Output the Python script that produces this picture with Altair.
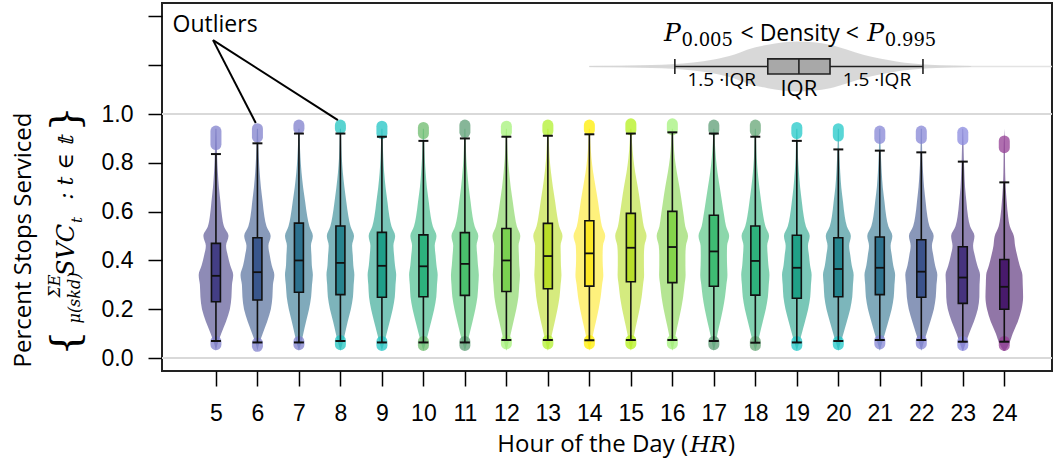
import altair as alt
import pandas as pd

# ---------------- data ----------------
hours = list(range(5, 25))
q1  = [0.231, 0.238, 0.270, 0.260, 0.249, 0.251, 0.257, 0.273, 0.284, 0.295,
       0.313, 0.309, 0.294, 0.258, 0.245, 0.251, 0.260, 0.249, 0.224, 0.200]
med = [0.337, 0.352, 0.400, 0.390, 0.378, 0.376, 0.386, 0.400, 0.418, 0.429,
       0.452, 0.455, 0.437, 0.398, 0.370, 0.365, 0.370, 0.354, 0.330, 0.292]
q3  = [0.470, 0.493, 0.553, 0.541, 0.515, 0.505, 0.514, 0.531, 0.552, 0.563,
       0.593, 0.601, 0.585, 0.541, 0.503, 0.493, 0.496, 0.485, 0.456, 0.404]
wlo = [0.070, 0.064, 0.064, 0.070, 0.064, 0.064, 0.064, 0.074, 0.074, 0.073,
       0.074, 0.074, 0.070, 0.063, 0.064, 0.070, 0.074, 0.074, 0.067, 0.067]
whi = [0.836, 0.880, 0.920, 0.920, 0.907, 0.890, 0.900, 0.907, 0.911, 0.917,
       0.920, 0.925, 0.920, 0.907, 0.890, 0.855, 0.850, 0.843, 0.805, 0.720]

top_lo = [0.875, 0.905, 0.940, 0.940, 0.920, 0.920, 0.925, 0.925, 0.930, 0.935,
          0.935, 0.935, 0.935, 0.930, 0.920, 0.910, 0.900, 0.900, 0.895, 0.862]
top_hi = [0.930, 0.940, 0.955, 0.955, 0.950, 0.945, 0.955, 0.950, 0.955, 0.955,
          0.960, 0.960, 0.955, 0.955, 0.945, 0.940, 0.930, 0.930, 0.925, 0.890]
bot_lo = [0.055, 0.048, 0.055, 0.055, 0.052, 0.052, 0.052, 0.058, 0.058, 0.058,
          0.058, 0.058, 0.055, 0.052, 0.052, 0.055, 0.058, 0.058, 0.052, 0.052]
bot_hi = [0.068, 0.062, 0.068, 0.072, 0.068, 0.068, 0.068, 0.072, 0.072, 0.072,
          0.072, 0.072, 0.068, 0.068, 0.068, 0.068, 0.072, 0.072, 0.068, 0.068]

box_colors = ["#433e85", "#39568c", "#2c718e", "#26828e", "#1f9e89", "#2db27d",
              "#4ac16d", "#7ad151", "#bade28", "#fde725", "#b8de29", "#84d44b",
              "#3fbc73", "#2eb37c", "#1fa187", "#25858e", "#2c728e", "#3b528b",
              "#46337e", "#481a6c"]
outlier_colors = ["#8080cc", "#8080cc", "#7f7fcc", "#22c4c0", "#22c4c4", "#6cbb6c",
                  "#5e9e76", "#a6f27a", "#b2f030", "#ffee00", "#b4f01c", "#a4f27c",
                  "#5e9e76", "#66a676", "#22c8c8", "#22c8c8", "#8585d5", "#8585d5",
                  "#8a8adf", "#943d94"]

# violin profile: relative density at value levels, one list per hour
levels = [0.03, 0.06, 0.10, 0.15, 0.20, 0.25, 0.30, 0.34, 0.38, 0.42,
          0.46, 0.50, 0.54, 0.58, 0.64, 0.70, 0.76, 0.82, 0.88, 0.94]
density = {
    5:  [0.00,0.10,0.30,0.58,0.80,0.89,0.92,0.99,0.82,0.68,0.58,0.72,0.46,0.35,0.26,0.17,0.11,0.07,0.05,0.03],
    6:  [0.00,0.10,0.30,0.56,0.77,0.86,0.89,0.97,0.82,0.71,0.63,0.76,0.52,0.40,0.30,0.20,0.13,0.08,0.05,0.03],
    7:  [0.00,0.12,0.25,0.41,0.58,0.70,0.75,0.80,0.74,0.72,0.69,0.80,0.60,0.48,0.36,0.24,0.15,0.09,0.05,0.03],
    8:  [0.00,0.12,0.26,0.42,0.60,0.72,0.76,0.80,0.74,0.71,0.67,0.78,0.58,0.46,0.34,0.23,0.14,0.08,0.05,0.03],
    9:  [0.00,0.12,0.27,0.45,0.62,0.74,0.78,0.82,0.75,0.70,0.66,0.76,0.55,0.43,0.32,0.21,0.13,0.08,0.05,0.03],
    10: [0.00,0.12,0.27,0.45,0.62,0.74,0.78,0.82,0.75,0.70,0.65,0.75,0.54,0.42,0.31,0.20,0.13,0.08,0.05,0.03],
    11: [0.00,0.12,0.27,0.44,0.60,0.72,0.77,0.80,0.75,0.71,0.67,0.77,0.56,0.44,0.33,0.22,0.14,0.08,0.05,0.03],
    12: [0.00,0.11,0.25,0.41,0.57,0.69,0.74,0.78,0.74,0.72,0.70,0.80,0.60,0.49,0.37,0.25,0.16,0.09,0.05,0.03],
    13: [0.00,0.11,0.24,0.40,0.55,0.67,0.73,0.78,0.75,0.74,0.73,0.84,0.65,0.54,0.42,0.29,0.18,0.10,0.06,0.03],
    14: [0.00,0.10,0.22,0.38,0.53,0.65,0.73,0.80,0.77,0.76,0.78,0.91,0.72,0.62,0.50,0.36,0.22,0.12,0.06,0.03],
    15: [0.00,0.10,0.20,0.35,0.50,0.62,0.70,0.76,0.75,0.75,0.78,0.90,0.74,0.65,0.53,0.40,0.25,0.14,0.07,0.03],
    16: [0.00,0.10,0.20,0.35,0.50,0.62,0.70,0.76,0.75,0.75,0.78,0.90,0.74,0.66,0.54,0.41,0.26,0.14,0.07,0.03],
    17: [0.00,0.10,0.21,0.37,0.52,0.64,0.72,0.78,0.76,0.75,0.76,0.88,0.70,0.60,0.47,0.34,0.21,0.12,0.06,0.03],
    18: [0.00,0.12,0.26,0.43,0.60,0.72,0.77,0.81,0.75,0.71,0.68,0.79,0.58,0.46,0.34,0.23,0.14,0.08,0.05,0.03],
    19: [0.00,0.12,0.28,0.47,0.65,0.77,0.81,0.85,0.76,0.70,0.64,0.74,0.52,0.40,0.29,0.19,0.12,0.07,0.05,0.03],
    20: [0.00,0.12,0.29,0.49,0.68,0.80,0.84,0.88,0.77,0.69,0.62,0.72,0.49,0.37,0.27,0.17,0.11,0.07,0.04,0.03],
    21: [0.00,0.12,0.29,0.49,0.68,0.80,0.84,0.88,0.77,0.69,0.62,0.72,0.49,0.37,0.27,0.17,0.11,0.07,0.04,0.03],
    22: [0.00,0.12,0.30,0.52,0.72,0.83,0.87,0.92,0.79,0.69,0.61,0.71,0.47,0.35,0.25,0.16,0.10,0.06,0.04,0.03],
    23: [0.02,0.16,0.36,0.64,0.86,0.95,0.96,0.99,0.83,0.69,0.59,0.67,0.42,0.30,0.21,0.13,0.09,0.06,0.04,0.02],
    24: [0.05,0.28,0.48,0.78,0.99,1.08,1.06,1.04,0.88,0.74,0.62,0.55,0.32,0.22,0.14,0.08,0.05,0.04,0.03,0.00],
}

# key (inset legend) violin profile
key_x = [14.0, 15.5, 16.5, 17.0, 17.5, 17.8, 18.3, 19.0, 19.8, 20.2, 20.6, 21.0, 21.4, 22.2, 23.2]
key_d = [0.02, 0.06, 0.16, 0.28, 0.48, 0.67, 0.87, 1.00, 0.87, 0.68, 0.47, 0.32, 0.20, 0.07, 0.02]

y_ticks = [0.0, 0.2, 0.4, 0.6, 0.8, 1.0, 1.2, 1.4]

# ---------------- tables ----------------
box_df = pd.DataFrame({"hour": hours, "q1": q1, "med": med, "q3": q3,
                       "wlo": wlo, "whi": whi, "tlo": top_lo, "thi": top_hi,
                       "blo": bot_lo, "bhi": bot_hi, "bc": box_colors, "oc": outlier_colors})
cmap = dict(zip(hours, box_colors))
vdf = pd.DataFrame([{"hour": h, "level": l, "dens": d, "bc": cmap[h]}
                    for h in hours for l, d in zip(levels, density[h])])
kdf = pd.DataFrame({"kx": key_x, "kd": key_d})

xs = alt.Scale(domain=[3.70, 25.15], nice=False, zero=False)
ys = alt.Scale(domain=[-0.053, 1.455], nice=False, zero=False)

X_AX = alt.Axis(values=hours, format="d", grid=False, domain=False, tickSize=15,
                tickColor="black", tickWidth=1.5, labelFont="Liberation Sans",
                labelFontSize=23, labelColor="black", labelPadding=16, title=None)
Y_AX = alt.Axis(values=y_ticks, labelExpr="datum.value > 1.05 ? '' : format(datum.value, '.1f')",
                grid=False, domain=False, tickSize=14, tickColor="black", tickWidth=1.5,
                labelFont="Liberation Sans", labelFontSize=23, labelColor="black",
                labelPadding=15, title=None)


def X(f):
    return alt.X(f, scale=xs, axis=X_AX)


def Y(f):
    return alt.Y(f, scale=ys, axis=Y_AX)


base = alt.Chart(box_df)

grid = alt.Chart(pd.DataFrame({"g": [0.0, 1.0]})).mark_rule(
    color="#d9d9d9", strokeWidth=2).encode(y=Y("g:Q"))

violins = alt.Chart(vdf).transform_calculate(
    xl="datum.hour - 0.42*datum.dens", xr="datum.hour + 0.42*datum.dens"
).mark_area(orient="horizontal", interpolate="monotone", opacity=0.6).encode(
    y=Y("level:Q"), x=X("xl:Q"), x2="xr:Q",
    color=alt.Color("bc:N", scale=None), detail="hour:N",
)

out_top = base.mark_rule(strokeWidth=11, strokeCap="round", opacity=0.75).encode(
    x=X("hour:Q"), y=Y("tlo:Q"), y2="thi:Q", color=alt.Color("oc:N", scale=None))
out_bot = base.mark_rule(strokeWidth=11, strokeCap="round", opacity=0.75).encode(
    x=X("hour:Q"), y=Y("blo:Q"), y2="bhi:Q", color=alt.Color("oc:N", scale=None))

whisk = base.mark_rule(color="#111", strokeWidth=1.6).encode(
    x=X("hour:Q"), y=Y("wlo:Q"), y2="whi:Q")
caps = base.transform_calculate(a="datum.hour - 0.12", b="datum.hour + 0.12")
cap_lo = caps.mark_rule(color="#111", strokeWidth=2).encode(x=X("a:Q"), x2="b:Q", y=Y("wlo:Q"))
cap_hi = caps.mark_rule(color="#111", strokeWidth=2).encode(x=X("a:Q"), x2="b:Q", y=Y("whi:Q"))

boxes = base.transform_calculate(
    a="datum.hour - 0.108", b="datum.hour + 0.108"
).mark_rect(stroke="#111", strokeWidth=1.6).encode(
    x=X("a:Q"), x2="b:Q", y=Y("q1:Q"), y2="q3:Q", fill=alt.Fill("bc:N", scale=None))
medians = base.transform_calculate(
    a="datum.hour - 0.108", b="datum.hour + 0.108"
).mark_rule(color="#111", strokeWidth=1.8).encode(x=X("a:Q"), x2="b:Q", y=Y("med:Q"))

# ---------------- inset key ----------------
KEY_Y = 1.195
key_line = alt.Chart(pd.DataFrame({"a": [14.0], "b": [25.15], "y": [KEY_Y]})).mark_rule(
    color="#e3e3e3", strokeWidth=1.5).encode(x=X("a:Q"), x2="b:Q", y=Y("y:Q"))
key_violin = alt.Chart(kdf).transform_calculate(
    lo=f"{KEY_Y} - 0.1025*datum.kd", hi=f"{KEY_Y} + 0.1025*datum.kd"
).mark_area(orient="vertical", interpolate="monotone", color="#d4d4d4", opacity=0.9).encode(
    x=X("kx:Q"), y=Y("lo:Q"), y2="hi:Q")
kb = pd.DataFrame({"a": [18.30], "b": [19.80], "m": [19.05], "wl": [16.06], "wh": [22.04],
                   "y": [KEY_Y], "ylo": [KEY_Y - 0.031], "yhi": [KEY_Y + 0.031]})
kbase = alt.Chart(kb)
key_wh = kbase.mark_rule(color="#222", strokeWidth=1.6).encode(x=X("wl:Q"), x2="wh:Q", y=Y("y:Q"))
key_c1 = kbase.mark_rule(color="#222", strokeWidth=1.6).encode(x=X("wl:Q"), y=Y("ylo:Q"), y2="yhi:Q")
key_c2 = kbase.mark_rule(color="#222", strokeWidth=1.6).encode(x=X("wh:Q"), y=Y("ylo:Q"), y2="yhi:Q")
key_box = kbase.mark_rect(fill="#a8a8a8", stroke="#222", strokeWidth=1.6).encode(
    x=X("a:Q"), x2="b:Q", y=Y("ylo:Q"), y2="yhi:Q")
key_med = kbase.mark_rule(color="#222", strokeWidth=1.6).encode(x=X("m:Q"), y=Y("ylo:Q"), y2="yhi:Q")


def txt(x, y, s, size, font="Open Sans", style="normal", align="center", baseline="middle"):
    return alt.Chart(pd.DataFrame({"x": [x], "y": [y], "t": [s]})).mark_text(
        fontSize=size, font=font, fontStyle=style, align=align, baseline=baseline,
        color="black").encode(x=X("x:Q"), y=Y("y:Q"), text="t:N")


key_texts = [
    txt(15.80, 1.299, "P", 25, "DejaVu Serif", "italic", "left", "alphabetic"),
    txt(16.22, 1.279, "0.005", 18, "DejaVu Serif", "normal", "left", "alphabetic"),
    txt(19.07, 1.299, "< Density <", 23, "Open Sans", "normal", "center", "alphabetic"),
    txt(20.70, 1.299, "P", 25, "DejaVu Serif", "italic", "left", "alphabetic"),
    txt(21.12, 1.279, "0.995", 18, "DejaVu Serif", "normal", "left", "alphabetic"),
    txt(17.19, 1.141, "1.5 \u00b7IQR", 19, "Open Sans"),
    txt(19.05, 1.102, "IQR", 22, "Open Sans"),
    txt(20.93, 1.141, "1.5 \u00b7IQR", 19, "Open Sans"),
]

# ---------------- outlier callout ----------------
call_text = txt(4.98, 1.365, "Outliers", 23, "Open Sans")
call_lines = alt.Chart(pd.DataFrame({"x0": [4.93, 4.93], "y0": [1.303, 1.303],
                                     "x1": [5.96, 7.94], "y1": [0.963, 0.975]})).mark_rule(
    color="black", strokeWidth=2).encode(x=X("x0:Q"), y=Y("y0:Q"), x2="x1:Q", y2="y1:Q")


# ---------------- titles (pixel placed) ----------------
def ptxt(px, py, s, size, font="Open Sans", style="normal", angle=0, align="center"):
    return alt.Chart(pd.DataFrame({"t": [s]})).mark_text(
        angle=angle, fontSize=size, font=font, fontStyle=style, align=align,
        baseline="middle", color="black").encode(
        x=alt.value(px - 162), y=alt.value(py - 3), text="t:N")


ytitle = [
    ptxt(24, 240, "Percent Stops Serviced", 24, angle=270),
    ptxt(66, 343, "{", 40, "DejaVu Serif", angle=270),
    ptxt(66, 119, "}", 40, "DejaVu Serif", angle=270),
    ptxt(55, 286, "\u03a3E", 16, "DejaVu Serif", "italic", angle=270),
    ptxt(75, 298, "\u03bc(skd)", 16, "DejaVu Serif", "italic", angle=270),
    ptxt(67, 250, "SVC", 24, "DejaVu Serif", "italic", angle=270),
    ptxt(77, 220, "t", 15, "DejaVu Serif", "italic", angle=270),
    ptxt(66, 168, ": t \u2208 \U0001D565", 22, "DejaVu Serif", "italic", angle=270),
]
xtitle = [
    ptxt(688, 445, "Hour of the Day (", 24, align="right"),
    ptxt(690, 445, "HR", 23, "DejaVu Serif", "italic", align="left"),
    ptxt(728, 445, ")", 24, align="left"),
]

chart = alt.layer(
    grid, key_line, key_violin, violins, out_top, out_bot, whisk, cap_lo, cap_hi,
    boxes, medians, key_wh, key_c1, key_c2, key_box, key_med,
    *key_texts, call_text, call_lines, *ytitle, *xtitle
).properties(
    width=890, height=368,
    autosize=alt.AutoSizeParams(type="none"),
    padding={"left": 162, "top": 3, "right": 1, "bottom": 94},
    background="white",
).configure_view(stroke="#222", strokeWidth=2)

chart.save("out.html", embed_options={"renderer": "svg", "actions": False})
